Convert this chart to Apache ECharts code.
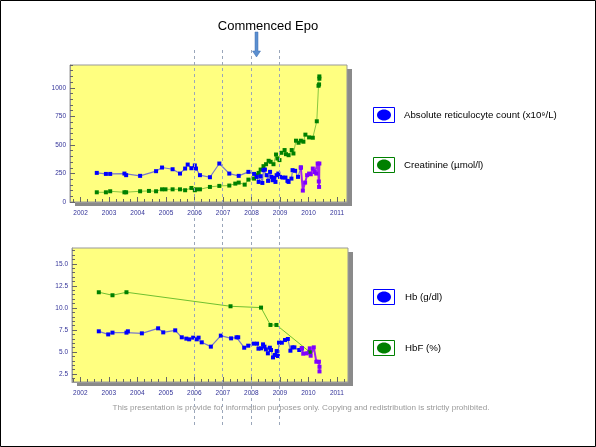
<!DOCTYPE html>
<html><head><meta charset="utf-8">
<script src="https://cdn.jsdelivr.net/npm/echarts@6/dist/echarts.min.js"></script>
<style>html,body{margin:0;padding:0;background:#fff}#c{width:596px;height:447px}</style>
</head><body><div id="c"></div>
<script>
// ---------- DATA ----------
const yearLabels = [2002,2003,2004,2005,2006,2007,2008,2009,2010,2011];
const epoMarkYears = [2006,2007,2008,2009];
const topYLabels = [0,250,500,750,1000];
const botYLabels = [2.5,5,7.5,10,12.5,15];

const reticulocyte = [
 [2002.57,255],[2002.89,246],[2003.04,246],[2003.54,249],[2003.60,235],[2004.09,229],[2004.65,270],
 [2004.86,302],[2005.23,287],[2005.49,249],[2005.67,293],[2005.76,328],[2005.89,296],[2006.01,320],
 [2006.05,293],[2006.19,235],[2006.54,217],[2006.87,337],[2007.22,249],[2007.55,229],[2007.89,264],
 [2008.09,246],[2008.18,220],[2008.25,176],[2008.32,226],[2008.38,167],[2008.42,279],[2008.47,284],
 [2008.53,235],[2008.58,185],[2008.65,264],[2008.70,220],[2008.74,191],[2008.79,211],[2008.84,176],
 [2008.88,235],[2008.94,249],[2009.00,220],[2009.09,214],[2009.19,214],[2009.26,185],[2009.30,176],
 [2009.40,205],[2009.44,279],[2009.53,273],[2009.63,220],[2009.73,302]
];
const reticulocyteEpo = [
 [2009.73,302],[2009.80,100],[2009.88,170],[2009.95,235],[2010.02,249],[2010.08,243],[2010.15,293],
 [2010.22,262],[2010.27,249],[2010.32,337],[2010.36,180],[2010.37,132],[2010.38,337]
];
const creatinine = [
 [2002.57,85],[2002.89,85],[2003.04,94],[2003.54,85],[2003.60,85],[2004.09,94],[2004.40,97],
 [2004.65,94],[2004.86,111],[2004.98,111],[2005.23,111],[2005.49,111],[2005.67,103],[2005.89,123],
 [2006.01,103],[2006.05,111],[2006.19,111],[2006.54,132],[2006.87,141],[2007.22,144],[2007.43,161],
 [2007.55,170],[2007.76,152],[2007.89,196],[2008.09,205],[2008.18,235],[2008.25,255],[2008.32,284],
 [2008.42,314],[2008.51,331],[2008.60,361],[2008.67,352],[2008.77,331],[2008.86,416],[2008.91,381],
 [2008.98,367],[2009.05,431],[2009.16,455],[2009.21,419],[2009.30,410],[2009.41,455],[2009.47,425],
 [2009.56,537],[2009.65,519],[2009.73,537],[2009.82,528],[2009.89,590],[2010.02,566],[2010.15,563],
 [2010.29,707],[2010.35,1018],[2010.37,1030],[2010.38,1100],[2010.38,1080]
];
const hb = [
 [2002.65,7.35],[2002.98,7.0],[2003.13,7.2],[2003.62,7.2],[2003.67,7.35],[2004.16,7.12],[2004.73,7.69],
 [2004.91,7.23],[2005.33,7.46],[2005.56,6.67],[2005.72,6.52],[2005.82,6.44],[2005.96,6.63],[2006.08,6.44],
 [2006.15,6.63],[2006.26,6.1],[2006.58,5.61],[2006.93,6.86],[2007.29,6.55],[2007.48,6.67],[2007.54,6.67],
 [2007.75,5.49],[2007.89,5.72],[2008.08,5.95],[2008.20,5.95],[2008.25,5.38],[2008.34,5.42],[2008.41,5.87],
 [2008.46,5.61],[2008.51,5.30],[2008.58,4.85],[2008.65,5.49],[2008.69,5.23],[2008.76,4.39],[2008.83,4.66],
 [2008.89,5.11],[2008.93,4.55],[2008.97,6.06],[2009.07,6.06],[2009.18,6.36],[2009.28,6.48],[2009.37,5.15],
 [2009.44,5.53],[2009.51,5.53],[2009.68,5.23],[2009.77,5.42]
];
const hbEpo = [
 [2009.77,5.42],[2009.82,4.81],[2009.94,4.85],[2010.05,5.42],[2010.08,4.58],[2010.19,5.53],
 [2010.28,3.9],[2010.37,3.9],[2010.39,3.33],[2010.39,2.8]
];
const hbf = [
 [2002.65,11.78],[2003.13,11.44],[2003.62,11.78],[2007.27,10.19],[2008.34,10.04],[2008.67,8.07],
 [2008.88,8.07],[2010.05,5.0]
];

// ---------- helpers ----------
function range(a,b,s){const r=[];for(let v=a;v<=b+1e-9;v+=s)r.push(Math.round(v*1000)/1000);return r;}
const FONT = "'Liberation Sans', Arial, sans-serif";
const labelColor = '#333399';
const tickColor = '#666';
const grids = [
  {left:70, top:65, width:277, height:137},
  {left:72, top:248, width:276, height:134}
];
const xRanges = [[2001.63,2011.35],[2001.71,2011.39]];
const yRanges = [[0,1200],[1.6,16.8]];

function xAxisFor(i, major){
  return {
    type:'value', gridIndex:i, min:xRanges[i][0], max:xRanges[i][1], position:'bottom',
    splitLine:{show:false},
    axisLine:{show:!major, lineStyle:{color:'#999', width:1}},
    axisTick:{show:true, inside:true, length: major?5:3, lineStyle:{color:tickColor},
      customValues: major ? yearLabels : range(2001.75,2011.25,0.25)},
    axisLabel:{show:!major, customValues:yearLabels, fontSize:6.5, color:labelColor, fontFamily:FONT, margin:8,
      formatter: v => String(Math.round(v))}
  };
}
function yAxisFor(i, major){
  const labels = i===0 ? topYLabels : botYLabels;
  const minor = i===0 ? range(0,1200,50) : range(2,16.5,0.5);
  return {
    type:'value', gridIndex:i, min:yRanges[i][0], max:yRanges[i][1], position:'left',
    splitLine:{show:false},
    axisLine:{show:!major, lineStyle:{color:'#999', width:1}},
    axisTick:{show:true, inside:true, length: major?5:3, lineStyle:{color:tickColor},
      customValues: major ? labels : minor},
    axisLabel:{show:!major, customValues:labels, fontSize:6.5, color:labelColor, fontFamily:FONT, margin:4,
      formatter: v => i===0 ? String(Math.round(v)) : Number(v).toFixed(1)}
  };
}

function lineSeries(data, xi, yi, lineColor, lineWidth, markColor, size){
  return {type:'line', xAxisIndex:xi, yAxisIndex:yi, data:data, symbol:'rect', symbolSize:size,
    showSymbol:true, animation:false, z:3,
    lineStyle:{color:lineColor, width:lineWidth}, itemStyle:{color:markColor}};
}

const chart = echarts.init(document.getElementById('c'), null, {renderer:'canvas'});

const legendItems = [
  {y:107, color:'#0000ff', fill:'#0000ff', text:'Absolute reticulocyte count (x10⁹/L)', tx:404},
  {y:157, color:'#008000', fill:'#008000', text:'Creatinine (µmol/l)', tx:404},
  {y:289, color:'#0000ff', fill:'#0000ff', text:'Hb (g/dl)', tx:405},
  {y:340, color:'#008000', fill:'#008000', text:'HbF (%)', tx:405}
];
const legendGraphics = [];
legendItems.forEach(it=>{
  legendGraphics.push({type:'rect', shape:{x:373.5, y:it.y+0.5, width:21, height:15},
    style:{fill:'#fff', stroke:it.color, lineWidth:1}, silent:true});
  legendGraphics.push({type:'ellipse', shape:{cx:384, cy:it.y+8, rx:7, ry:5.5},
    style:{fill:it.fill}, silent:true});
  legendGraphics.push({type:'text', x:it.tx, y:it.y+8,
    style:{text:it.text, fill:'#000', font:'9.7px '+FONT, verticalAlign:'middle', textAlign:'left'}, silent:true});
});

const shadowGraphics = grids.map(g=>({type:'rect', z:-10,
  shape:{x:g.left+5, y:g.top+4, width:g.width, height:g.height},
  style:{fill:'#8a8a8a'}, silent:true}));

chart.setOption({
  backgroundColor:'#ffffff',
  animation:false,
  grid: grids.map(g=>Object.assign({show:true, backgroundColor:'#ffff80', borderColor:'#999', borderWidth:1,
    containLabel:false}, g)),
  xAxis:[xAxisFor(0,false), xAxisFor(1,false), xAxisFor(0,true), xAxisFor(1,true)],
  yAxis:[yAxisFor(0,false), yAxisFor(1,false), yAxisFor(0,true), yAxisFor(1,true)],
  series:[
    lineSeries(creatinine,0,0,'#88c840',1,'#008000',4),
    lineSeries(reticulocyte,0,0,'#7a7ac8',1.2,'#0000ff',4),
    lineSeries(reticulocyteEpo,0,0,'#a020f0',2,'#8000ff',4),
    lineSeries(hbf,1,1,'#70c030',1,'#008000',4),
    lineSeries(hb,1,1,'#7a7ac8',1.2,'#0000ff',4),
    lineSeries(hbEpo,1,1,'#a020f0',2,'#8000ff',4)
  ]
});

// overlay: dashed year lines, title, arrow, legend, footer, frame
const dashLines = epoMarkYears.map(y=>{
  const px = Math.round(chart.convertToPixel({xAxisIndex:0}, y)) - 0.5;
  return {type:'line', shape:{x1:px, y1:50, x2:px, y2:425}, z:10,
    style:{stroke:'#9aa6ba', lineWidth:1, lineDash:[3,3]}, silent:true};
});
chart.setOption({
  graphic:[
    ...shadowGraphics,
    {type:'rect', shape:{x:0.5, y:0.5, width:595, height:446}, style:{fill:'none', stroke:'#000', lineWidth:1}, silent:true},
    ...dashLines,
    {type:'text', x:268, y:26, style:{text:'Commenced Epo', fill:'#000', font:'13px '+FONT, textAlign:'center', verticalAlign:'middle'}, silent:true},
    {type:'polygon', shape:{points:[[255,32],[258,32],[258,51],[260.5,51],[256.5,57],[252.5,51],[255,51]]},
      style:{fill:'#5b8fd0', stroke:'#3c6eb0', lineWidth:0.5}, z:11, silent:true},
    ...legendGraphics,
    {type:'text', x:301, y:408, style:{text:'This presentation is provide for information purposes only. Copying and redistribution is strictly prohibited.',
      fill:'#999', font:'8.1px '+FONT, textAlign:'center', verticalAlign:'middle'}, silent:true}
  ]
});
</script></body></html>
